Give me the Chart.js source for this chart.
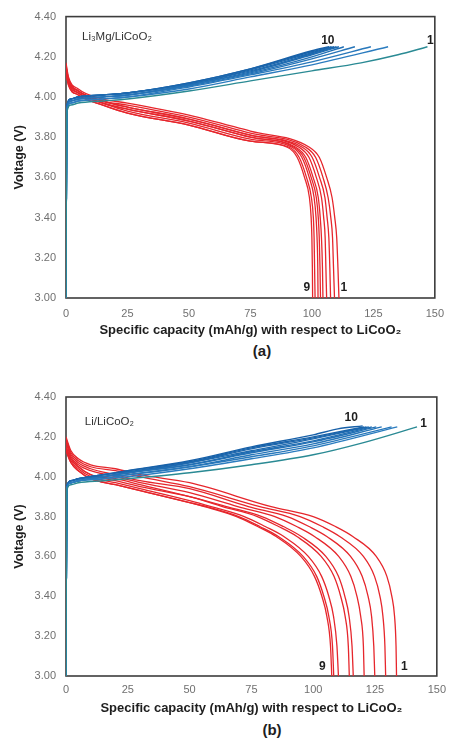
<!DOCTYPE html>
<html>
<head>
<meta charset="utf-8">
<title>Charge / discharge cycling curves</title>
<script src="https://cdn.jsdelivr.net/npm/chart.js@4.4.1/dist/chart.umd.min.js"></script>
<style>
  body { margin: 0; background: #fff; width: 453px; height: 740px; position: relative; overflow: hidden;
         font-family: "Liberation Sans", Arial, sans-serif; }
  canvas { position: absolute; left: 0; }
  #chartA { top: 0; }
  #chartB { top: 380px; }
  .panel-tag { position: absolute; width: 40px; text-align: center; font-weight: bold;
               font-size: 15px; line-height: 16px; color: #1e1e1e; }
</style>
</head>
<body>
<canvas id="chartA" width="453" height="340"></canvas>
<div class="panel-tag" style="left:242px; top:343px;">(a)</div>
<canvas id="chartB" width="453" height="340"></canvas>
<div class="panel-tag" style="left:252px; top:722px;">(b)</div>

<script>
/* ---------- axes ---------- */
const capacityTicks = [0, 25, 50, 75, 100, 125, 150];
const voltageTicks = [3.0, 3.2, 3.4, 3.6, 3.8, 4.0, 4.2, 4.4];

/* ---------- panel (a) : Li3Mg / LiCoO2, [capacity, voltage] ---------- */
const chargeA = [
  [[0,3.00],[0.3,3.92],[2,3.96],[5,3.97],[15,3.98],[25,3.99],[50,4.03],[75,4.08],[100,4.13],[120,4.17],[135,4.21],[147,4.25]],
  [[0,3.00],[0.3,3.93],[2,3.97],[5,3.98],[15,3.99],[25,4.00],[50,4.04],[75,4.10],[100,4.16],[131,4.25]],
  [[0,3.00],[0.3,3.93],[2,3.97],[5,3.98],[15,3.99],[25,4.00],[50,4.05],[75,4.11],[100,4.175],[124,4.25]],
  [[0,3.00],[0.3,3.94],[2,3.98],[5,3.99],[15,4.00],[25,4.01],[50,4.055],[75,4.115],[100,4.19],[117.5,4.25]],
  [[0,3.00],[0.3,3.94],[2,3.98],[5,3.99],[15,4.00],[25,4.01],[50,4.06],[75,4.12],[100,4.20],[113,4.25]],
  [[0,3.00],[0.3,3.94],[2,3.98],[5,3.99],[15,4.00],[25,4.01],[50,4.06],[75,4.125],[100,4.21],[111,4.25]],
  [[0,3.00],[0.3,3.95],[2,3.99],[5,4.00],[15,4.01],[25,4.02],[50,4.065],[75,4.13],[100,4.215],[110,4.25]],
  [[0,3.00],[0.3,3.95],[2,3.99],[5,4.00],[15,4.01],[25,4.02],[50,4.065],[75,4.135],[100,4.22],[109,4.25]],
  [[0,3.00],[0.3,3.95],[2,3.99],[5,4.00],[15,4.01],[25,4.02],[50,4.07],[75,4.14],[100,4.225],[108,4.25]],
  [[0,3.00],[0.3,3.95],[2,3.99],[5,4.00],[15,4.01],[25,4.02],[50,4.07],[75,4.14],[100,4.23],[107,4.25]]
];
const dischargeA = [
  [[0,4.17],[1,4.10],[5,4.04],[15,3.99],[25,3.97],[50,3.91],[75,3.83],[99,3.75],[103,3.70],[106,3.60],[108.2,3.50],[109.3,3.40],[110.1,3.30],[110.6,3.15],[111,3.00]],
  [[0,4.16],[1,4.09],[5,4.03],[15,3.98],[25,3.96],[50,3.90],[75,3.82],[97.5,3.75],[101.5,3.70],[104.5,3.60],[106.6,3.50],[107.7,3.40],[108.4,3.30],[108.8,3.15],[109.2,3.00]],
  [[0,4.15],[1,4.09],[5,4.03],[15,3.98],[25,3.95],[50,3.89],[75,3.81],[96.1,3.75],[100.1,3.70],[103.1,3.60],[105.3,3.50],[106.2,3.40],[106.9,3.30],[107.3,3.15],[107.6,3.00]],
  [[0,4.15],[1,4.08],[5,4.03],[15,3.98],[25,3.95],[50,3.89],[75,3.81],[94.8,3.75],[98.8,3.70],[101.8,3.60],[103.9,3.50],[104.8,3.40],[105.4,3.30],[105.7,3.15],[106.0,3.00]],
  [[0,4.14],[1,4.08],[5,4.02],[15,3.97],[25,3.94],[50,3.88],[75,3.80],[93.5,3.75],[97.5,3.70],[100.5,3.60],[102.6,3.50],[103.4,3.40],[103.9,3.30],[104.3,3.15],[104.5,3.00]],
  [[0,4.14],[1,4.07],[5,4.02],[15,3.97],[25,3.94],[50,3.88],[75,3.80],[92.7,3.75],[96.7,3.70],[99.7,3.60],[101.8,3.50],[102.6,3.40],[103.0,3.30],[103.3,3.15],[103.5,3.00]],
  [[0,4.13],[1,4.07],[5,4.02],[15,3.97],[25,3.93],[50,3.87],[75,3.79],[91.9,3.75],[95.9,3.70],[98.9,3.60],[100.9,3.50],[101.7,3.40],[102.1,3.30],[102.4,3.15],[102.5,3.00]],
  [[0,4.12],[1,4.06],[5,4.01],[15,3.96],[25,3.92],[50,3.86],[75,3.78],[90.8,3.75],[94.8,3.70],[97.8,3.60],[99.8,3.50],[100.6,3.40],[100.9,3.30],[101.1,3.15],[101.3,3.00]],
  [[0,4.12],[1,4.06],[5,4.01],[15,3.96],[25,3.92],[50,3.86],[75,3.78],[90,3.75],[94,3.70],[97,3.60],[99,3.50],[99.7,3.40],[100,3.30],[100.2,3.15],[100.3,3.00]]
];

/* ---------- panel (b) : Li / LiCoO2 ---------- */
const chargeB = [
  [[0,3.00],[0.3,3.93],[2,3.96],[5,3.97],[15,3.98],[25,3.99],[50,4.02],[75,4.06],[100,4.11],[120,4.17],[142,4.25]],
  [[0,3.00],[0.3,3.94],[2,3.97],[5,3.98],[15,3.99],[25,4.00],[50,4.04],[75,4.09],[100,4.145],[134,4.25]],
  [[0,3.00],[0.3,3.94],[2,3.97],[5,3.98],[15,3.99],[25,4.01],[50,4.05],[75,4.10],[100,4.155],[131.7,4.25]],
  [[0,3.00],[0.3,3.94],[2,3.97],[5,3.98],[15,4.00],[25,4.01],[50,4.05],[75,4.11],[100,4.165],[127.7,4.25]],
  [[0,3.00],[0.3,3.94],[2,3.97],[5,3.98],[15,4.00],[25,4.02],[50,4.06],[75,4.12],[100,4.175],[125.5,4.25]],
  [[0,3.00],[0.3,3.94],[2,3.97],[5,3.98],[15,4.00],[25,4.02],[50,4.06],[75,4.125],[100,4.18],[123.7,4.25]],
  [[0,3.00],[0.3,3.95],[2,3.98],[5,3.99],[15,4.00],[25,4.02],[50,4.07],[75,4.13],[100,4.19],[122.5,4.25]],
  [[0,3.00],[0.3,3.95],[2,3.98],[5,3.99],[15,4.01],[25,4.025],[50,4.07],[75,4.14],[100,4.195],[121.5,4.25]],
  [[0,3.00],[0.3,3.95],[2,3.98],[5,3.99],[15,4.01],[25,4.03],[50,4.075],[75,4.145],[100,4.20],[120.5,4.25]],
  [[0,3.00],[0.3,3.95],[2,3.98],[5,3.99],[15,4.01],[25,4.03],[50,4.08],[75,4.15],[100,4.21],[110,4.24],[120,4.255]]
];
const dischargeB = [
  [[0,4.20],[2,4.13],[5,4.09],[10,4.06],[20,4.04],[30,4.01],[50,3.97],[83,3.85],[100,3.80],[109,3.75],[116,3.70],[125.5,3.60],[129.8,3.50],[131.8,3.40],[132.9,3.30],[133.5,3.15],[133.7,3.00]],
  [[0,4.19],[2,4.12],[5,4.08],[10,4.05],[20,4.03],[30,4.00],[50,3.95],[78.4,3.85],[94.7,3.80],[103.6,3.75],[110.7,3.70],[120.3,3.60],[124.8,3.50],[127.0,3.40],[128.2,3.30],[129.0,3.15],[129.3,3.00]],
  [[0,4.18],[2,4.11],[5,4.07],[10,4.04],[20,4.01],[30,3.98],[50,3.94],[73.8,3.85],[89.5,3.80],[98.3,3.75],[105.5,3.70],[115.1,3.60],[119.8,3.50],[122.2,3.40],[123.6,3.30],[124.5,3.15],[124.9,3.00]],
  [[0,4.17],[2,4.10],[5,4.06],[10,4.03],[20,4.00],[30,3.97],[50,3.92],[69.5,3.85],[84.5,3.80],[93.3,3.75],[100.5,3.70],[110.3,3.60],[115.2,3.50],[117.7,3.40],[119.2,3.30],[120.3,3.15],[120.6,3.00]],
  [[0,4.15],[2,4.09],[5,4.05],[10,4.01],[20,3.99],[30,3.96],[50,3.90],[64.9,3.85],[79.2,3.80],[87.9,3.75],[95.2,3.70],[105.1,3.60],[110.2,3.50],[112.8,3.40],[114.5,3.30],[115.7,3.15],[116.2,3.00]],
  [[0,4.15],[2,4.09],[5,4.05],[10,4.01],[20,3.98],[30,3.95],[50,3.90],[63.3,3.85],[77.4,3.80],[86,3.75],[93.4,3.70],[103.2,3.60],[108.4,3.50],[111.1,3.40],[112.9,3.30],[114.2,3.15],[114.6,3.00]],
  [[0,4.14],[2,4.08],[5,4.04],[10,4.00],[20,3.97],[30,3.94],[50,3.88],[58.7,3.85],[72.1,3.80],[80.6,3.75],[88.1,3.70],[98.0,3.60],[103.4,3.50],[106.3,3.40],[108.2,3.30],[109.6,3.15],[110.2,3.00]],
  [[0,4.13],[2,4.07],[5,4.03],[10,3.99],[20,3.96],[30,3.93],[50,3.87],[56.8,3.85],[69.9,3.80],[78.4,3.75],[85.9,3.70],[95.9,3.60],[101.4,3.50],[104.3,3.40],[106.3,3.30],[107.8,3.15],[108.3,3.00]],
  [[0,4.13],[2,4.07],[5,4.03],[10,3.99],[20,3.96],[30,3.93],[50,3.87],[56,3.85],[69,3.80],[77.5,3.75],[85,3.70],[95,3.60],[100.5,3.50],[103.5,3.40],[105.5,3.30],[107,3.15],[107.5,3.00]]
];

/* cycle numbers written next to the curve ends: [text, capacity, voltage] */
const cycleNotesA = [['10', 106.5, 4.28], ['1', 148.2, 4.28], ['9', 97.9, 3.05], ['1', 113, 3.05]];
const cycleNotesB = [['10', 115.4, 4.295], ['1', 144.6, 4.265], ['9', 103.7, 3.045], ['1', 136.9, 3.045]];

const chargeColors = ['#2a8a94', '#2b7cbf', '#2878bb', '#2574b8', '#2270b5', '#1f6cb2', '#1d69af', '#1b66ad', '#1963aa', '#1760a8'];
const dischargeColor = '#e6262c';
const FONT = '"Liberation Sans", Arial, sans-serif';

function toPoints(curve) {
  return curve.map(([x, y]) => ({ x, y }));
}

function buildDatasets(charge, discharge) {
  const sets = [];
  // charge curves first so they sit on top of the discharge bundle
  charge.forEach((curve, i) => sets.push({
    label: 'Charge ' + (i + 1),
    data: toPoints(curve),
    borderColor: chargeColors[i],
    borderWidth: 1.4
  }));
  discharge.forEach((curve, i) => sets.push({
    label: 'Discharge ' + (i + 1),
    data: toPoints(curve),
    borderColor: dischargeColor,
    borderWidth: 1.3
  }));
  sets.forEach(s => Object.assign(s, {
    showLine: true, pointRadius: 0, cubicInterpolationMode: 'monotone', fill: false
  }));
  return sets;
}

// box around the plot area plus the cell name and cycle numbers
function panelPlugin(cellName, notes) {
  return {
    id: 'panelDecor',
    beforeDatasetsDraw(chart) {
      const { ctx, chartArea: a } = chart;
      ctx.save();
      ctx.strokeStyle = '#3d3d3d';
      ctx.lineWidth = 1.6;
      ctx.strokeRect(a.left, a.top, a.right - a.left, a.bottom - a.top);
      ctx.restore();
    },
    afterDatasetsDraw(chart) {
      const { ctx, scales: { x, y } } = chart;
      ctx.save();
      ctx.fillStyle = '#333';
      ctx.textBaseline = 'middle';
      ctx.textAlign = 'left';
      ctx.font = '11.5px ' + FONT;
      ctx.fillText(cellName[0], x.getPixelForValue(cellName[1]), y.getPixelForValue(cellName[2]));
      ctx.fillStyle = '#1e1e1e';
      ctx.textAlign = 'center';
      ctx.font = 'bold 12px ' + FONT;
      notes.forEach(([text, cap, volt]) => {
        ctx.fillText(text, x.getPixelForValue(cap), y.getPixelForValue(volt));
      });
      ctx.restore();
    }
  };
}

function renderPanel(canvasId, charge, discharge, cellName, notes, geo) {
  return new Chart(document.getElementById(canvasId), {
    type: 'scatter',
    data: { datasets: buildDatasets(charge, discharge) },
    options: {
      responsive: false,
      animation: false,
      layout: { padding: { top: geo.top, right: geo.right, left: 0, bottom: 0 } },
      plugins: { legend: { display: false }, tooltip: { enabled: false } },
      scales: {
        x: {
          type: 'linear',
          min: capacityTicks[0],
          max: capacityTicks[capacityTicks.length - 1],
          afterFit(scale) { scale.height = geo.xHeight; },
          grid: { display: false, drawTicks: false },
          border: { display: false },
          ticks: {
            stepSize: capacityTicks[1] - capacityTicks[0],
            padding: geo.xPad,
            maxRotation: 0,
            color: '#707070',
            font: { family: FONT, size: 11 }
          },
          title: {
            display: true,
            text: 'Specific capacity (mAh/g) with respect to LiCoO\u2082',
            color: '#1e1e1e',
            font: { family: FONT, size: 13, weight: 'bold' },
            padding: { top: 0, bottom: geo.titlePad }
          }
        },
        y: {
          min: voltageTicks[0],
          max: voltageTicks[voltageTicks.length - 1],
          afterFit(scale) { scale.width = 66; },
          grid: { display: false, drawTicks: false },
          border: { display: false },
          ticks: {
            stepSize: 0.2,
            padding: 10,
            color: '#707070',
            font: { family: FONT, size: 11 },
            callback: v => v.toFixed(2)
          },
          title: {
            display: true,
            text: 'Voltage (V)',
            color: '#1e1e1e',
            font: { family: FONT, size: 12.5, weight: 'bold' },
            padding: { top: 12, bottom: 0 }
          }
        }
      }
    },
    plugins: [panelPlugin(cellName, notes)]
  });
}

renderPanel('chartA', chargeA, dischargeA, ['Li\u2083Mg/LiCoO\u2082', 6.5, 4.30], cycleNotesA,
  { top: 15, right: 8, xHeight: 42, xPad: 9, titlePad: 2 });
renderPanel('chartB', chargeB, dischargeB, ['Li/LiCoO\u2082', 7.6, 4.275], cycleNotesB,
  { top: 17, right: 10, xHeight: 44, xPad: 7, titlePad: 4 });
</script>
</body>
</html>
